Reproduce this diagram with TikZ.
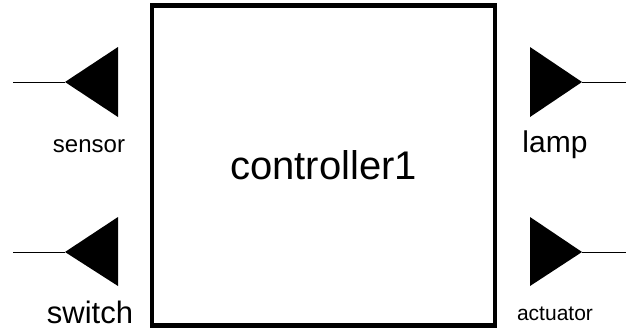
\documentclass[tikz,border=0pt]{standalone}
\usepackage{fontspec}
\setmainfont{Liberation Sans}

\tikzset{
  port/.style={fill=black},
  wire/.style={line width=0.5pt},
  bigtxt/.style={font=\fontsize{15.5}{18}\selectfont, anchor=base},
  smalltxt/.style={font=\fontsize{11.5}{14}\selectfont, anchor=base}
}

\begin{document}
\begin{tikzpicture}[x=0.5pt, y=0.5pt]
    \useasboundingbox (0,0) rectangle (626,328);

    % the controller block
    \node[draw, line width=2.25pt, minimum width=171.5pt, minimum height=160.1pt,
          inner sep=0pt, font=\fontsize{20}{24}\selectfont] (ctrl) at (323.5,162.6) {controller1};

    % input ports on the left
    \coordinate (sensortip) at (65,246);
    \coordinate (sensorend) at (13,246);
    \fill[port] (sensortip) -- (118,281) -- (118,211) -- cycle;
    \draw[wire] (sensorend) -- (sensortip);

    \coordinate (switchtip) at (65,76);
    \coordinate (switchend) at (13,76);
    \fill[port] (switchtip) -- (118,111) -- (118,42) -- cycle;
    \draw[wire] (switchend) -- (switchtip);

    % output ports on the right
    \coordinate (lamptip) at (582,246);
    \coordinate (lampend) at (626,246);
    \fill[port] (lamptip) -- (530,281) -- (530,211) -- cycle;
    \draw[wire] (lamptip) -- (lampend);

    \coordinate (acttip) at (582,76);
    \coordinate (actend) at (626,76);
    \fill[port] (acttip) -- (530,111) -- (530,42) -- cycle;
    \draw[wire] (acttip) -- (actend);

    % port names
    \node[smalltxt, font=\fontsize{12}{14}\selectfont] (sensor) at (89,176) {sensor};
    \node[bigtxt] (switch) at (90,5) {switch};
    \node[bigtxt, font=\fontsize{15}{18}\selectfont] (lamp) at (555,176) {lamp};
    \node[smalltxt, font=\fontsize{10.5}{12}\selectfont] (actuator) at (555,8) {actuator};
\end{tikzpicture}
\end{document}
